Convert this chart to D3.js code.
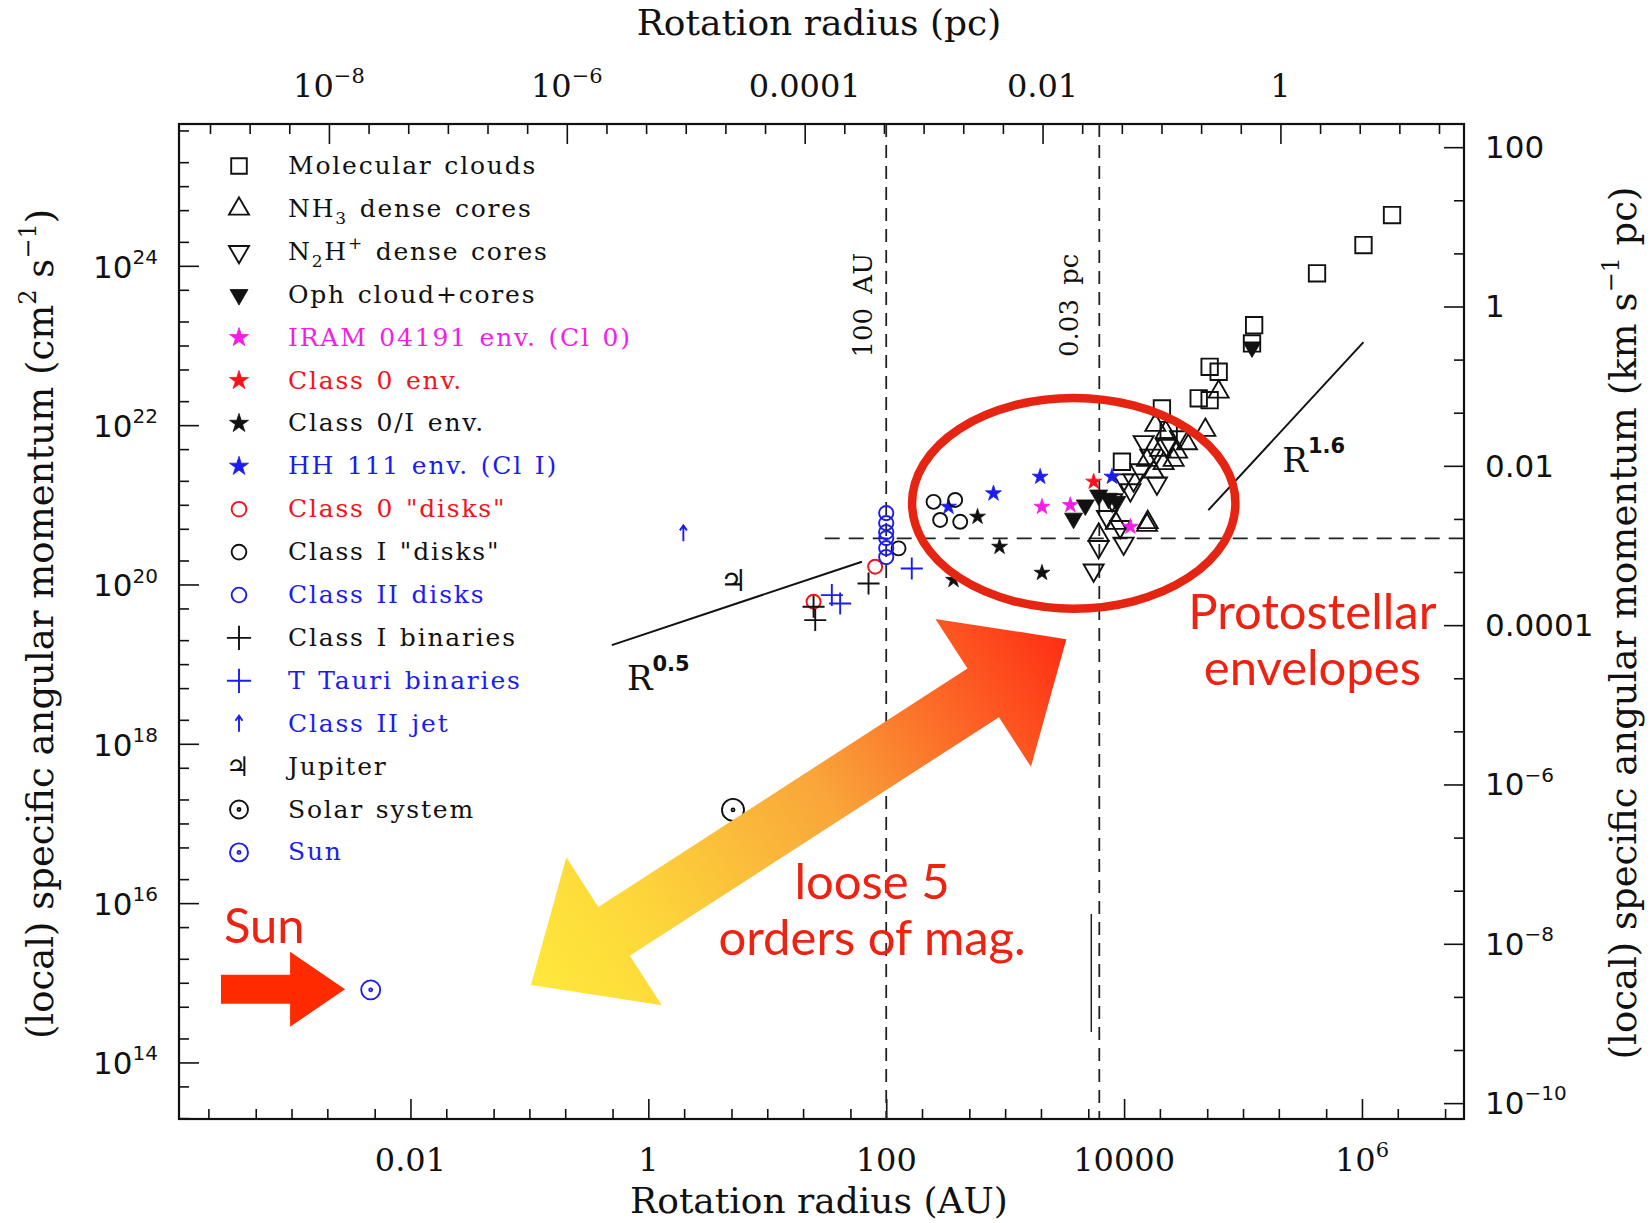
<!DOCTYPE html>
<html>
<head>
<meta charset="utf-8">
<script src="https://d3js.org/d3.v7.min.js"></script>
<style>
body { margin: 0; background: #fff; }
svg { font-family: "DejaVu Serif", serif; background: #fff; }
.tick line { stroke: #111; stroke-width: 1.6; }
.legend text { font-size: 25px; letter-spacing: 1.8px; word-spacing: 2px; }
.red-note { font-family: Lato, "Open Sans", sans-serif; font-size: 49px; fill: #ee2211; }
</style>
</head>
<body>
<script>
// rotation radius R in AU, specific angular momentum j in cm^2 s^-1
var molecularClouds = [[1.79e6,4.33e24],[1.03e6,1.82e24],[4.19e5,8.04e23],[1.24e5,1.80e23],[1.19e5,1.06e23],
  [5.24e4,5.40e22],[6.24e4,4.68e22],[4.24e4,2.17e22],[5.24e4,2.06e22],[2.08e4,1.62e22],[2.37e4,8.67e21],[9.59e3,3.47e21]];
var nh3Cores = [[6.24e4,2.62e22],[4.82e4,8.67e21],[1.83e4,1.00e22],[3.38e4,5.90e21],[2.01e4,4.86e21],[2.79e4,4.62e21],
  [1.56e4,3.64e21],[2.15e4,3.31e21],[1.77e4,2.59e21],[2.61e4,3.64e21],[1.56e4,5.56e20],[6.11e3,4.17e20],
  [1.58e4,6.03e20],[8.51e3,5.89e20],[2.24e4,8.13e21]];
var n2hCores = [[1.46e4,6.17e21],[1.37e4,2.73e21],[1.89e4,1.86e21],[1.20e4,2.04e21],[9.91e3,2.04e21],[1.13e4,1.53e21],
  [7.18e3,7.08e20],[9.27e3,5.30e20],[9.91e3,3.28e20],[6.11e3,2.97e20],[5.55e3,1.51e20],[1.66e4,4.17e21],
  [2.26e4,5.56e21],[2.95e4,7.08e21],[7.94e3,1.15e21]];
var ophCores = [[3.76e3,6.76e20],[4.72e3,9.91e20],[6.11e3,1.32e21],[7.41e3,1.20e21],[8.71e3,1.10e21],[1.19e5,9.55e22]];
var iram04191 = [[2.04e3,9.44e20],[3.53e3,9.91e20],[1.13e4,5.30e20]];
var class0Env = [[5.55e3,1.95e21]];
var class0IEnv = [[586,7.08e20],[897,2.97e20],[2.04e3,1.40e20],[368,1.14e20]];
var hh111Env = [[1.97e3,2.25e21],[798,1.39e21],[334,9.44e20],[7.91e3,2.25e21]];
var class0Disks = [[80.7,1.67e20],[24.5,6.07e19]];
var classIDisks = [[250,1.09e21],[380,1.15e21],[284,6.46e20],[419,6.12e20],[127,2.84e20]];
var classIIDisks = [[100,7.87e20],[100,5.89e20],[100,4.54e20],[100,3.82e20],[100,2.86e20],[100,2.21e20]];
var classIBinaries = [[71,1.03e20],[24.5,5.25e19],[25.3,3.57e19]];
var tTauriBinaries = [[164,1.59e20],[34.9,7.36e19],[41.0,5.78e19]];
var classIIJet = [[1.97,4.38e20]];
var jupiter = [[5.2,1.14e20]];
var solarSystem = [[5.15,1.48e17]];
var sun = [[4.63e-3,8.15e14]];

var legendLabels = ["Molecular clouds", "NH_{3} dense cores", "N_{2}H^{+} dense cores", "Oph cloud+cores",
  "IRAM 04191 env. (Cl 0)", "Class 0 env.", "Class 0/I env.", "HH 111 env. (Cl I)", "Class 0 \"disks\"",
  "Class I \"disks\"", "Class II disks", "Class I binaries", "T Tauri binaries", "Class II jet", "Jupiter",
  "Solar system", "Sun"];
var legendSymbols = ["square", "triUp", "triDown", "triDownFilled", "star", "star", "star", "star", "circle",
  "circle", "circle", "cross", "cross", "arrow", "jupiter", "sun", "sun"];
var legendColors = ["#111", "#111", "#111", "#111", "#f21ee8", "#f5121a", "#111", "#1c1cf0", "#f5121a",
  "#111", "#1c1cf0", "#111", "#1c1cf0", "#1c1cf0", "#111", "#111", "#1c1cf0"];
var seriesData = [molecularClouds, nh3Cores, n2hCores, ophCores, iram04191, class0Env, class0IEnv, hh111Env,
  class0Disks, classIDisks, classIIDisks, classIBinaries, tTauriBinaries, classIIJet, jupiter, solarSystem, sun];

// power-law guides: R^0.5 and R^1.6
var fitHalf = [[0.493,1.73e19],[62.5,1.93e20]];
var fitSteep = [[5.11e4,8.59e20],[1.03e6,1.10e23]];
var dashedR = [100, 6188];          // 100 AU and 0.03 pc
var dashedJ = 3.78e20;
var dashedJStart = 30.4;

// tick labels
var bottomLabelValues = [0.01, 1, 100, 1e4, 1e6];
var bottomLabelText = ["0.01", "1", "100", "10000", "10^{6}"];
var topLabelValues = [1e-8, 1e-6, 1e-4, 0.01, 1];
var topLabelText = ["10^{−8}", "10^{−6}", "0.0001", "0.01", "1"];
var leftLabelValues = [1e14, 1e16, 1e18, 1e20, 1e22, 1e24];
var leftLabelText = ["10^{14}", "10^{16}", "10^{18}", "10^{20}", "10^{22}", "10^{24}"];
var rightLabelValues = [100, 1, 0.01, 1e-4, 1e-6, 1e-8, 1e-10];
var rightLabelText = ["100", "1", "0.01", "0.0001", "10^{−6}", "10^{−8}", "10^{−10}"];

var AU_PER_PC = 206265, J_PER_KMPC = 3.086e23;

var W = 1651, H = 1223;
var frame = {left: 179, top: 124, right: 1464, bottom: 1119};

var svg = d3.select("body").append("svg").attr("width", W).attr("height", H);

var x = d3.scaleLog().domain([1.132e-4, 7.21e6]).range([frame.left, frame.right]);
var y = d3.scaleLog().domain([1.95e13, 6.03e25]).range([frame.bottom, frame.top]);
var xPc = d3.scaleLog().domain(x.domain().map(function(v) { return v / AU_PER_PC; })).range(x.range());
var yKm = d3.scaleLog().domain(y.domain().map(function(v) { return v / J_PER_KMPC; })).range(y.range());

// text with ^{..} superscripts and _{..} subscripts
function rich(t, str, size) {
  var cur = 0;
  str.split(/([_^]\{[^}]*\})/).forEach(function(p) {
    if (!p) return;
    var m = p.match(/^([_^])\{([^}]*)\}$/);
    var target = 0, txt = p, fs = null;
    if (m) {
      target = m[1] === "^" ? -0.45 * size : 0.3 * size;
      txt = m[2];
      fs = Math.round(size * 0.66) + "px";
    }
    var ts = t.append("tspan").attr("dy", target - cur).text(txt);
    if (fs) ts.style("font-size", fs);
    cur = target;
  });
  return t;
}

// ---- ticks
function tickList(lo, hi, mults) {
  var out = [];
  for (var e = Math.floor(Math.log10(lo)) - 1; e <= Math.ceil(Math.log10(hi)) + 1; e++) {
    mults.forEach(function(m) {
      var v = m * Math.pow(10, e);
      if (v >= lo && v <= hi) out.push({v: v, major: m === 1 && e % 2 === 0});
    });
  }
  return out;
}
function evenSteps(lo, hi, step) {
  var out = [];
  var a = Math.ceil(Math.log10(lo) / step - 1e-9), b = Math.floor(Math.log10(hi) / step + 1e-9);
  for (var k = a; k <= b; k++) {
    var e = k * step;
    var isInt = Math.abs(e - Math.round(e)) < 1e-6;
    out.push({v: Math.pow(10, e), major: isInt && Math.round(e) % 2 === 0});
  }
  return out;
}

function drawTicks(axisGen, transform, list) {
  [false, true].forEach(function(maj) {
    var vals = list.filter(function(d) { return d.major === maj; }).map(function(d) { return d.v; });
    svg.append("g").attr("transform", transform)
      .call(axisGen.tickValues(vals).tickSize(maj ? -20 : -10).tickFormat(""))
      .call(function(g) { g.select(".domain").remove(); });
  });
}
drawTicks(d3.axisBottom(x), "translate(0," + frame.bottom + ")", tickList(x.domain()[0], x.domain()[1], [1, 2, 5]));
drawTicks(d3.axisLeft(y), "translate(" + frame.left + ",0)", tickList(y.domain()[0], y.domain()[1], [1, 2, 5]));
drawTicks(d3.axisTop(xPc), "translate(0," + frame.top + ")", evenSteps(xPc.domain()[0], xPc.domain()[1], 1 / 3));
drawTicks(d3.axisRight(yKm), "translate(" + frame.right + ",0)", evenSteps(yKm.domain()[0], yKm.domain()[1], 2 / 3));

svg.append("rect")
  .attr("x", frame.left).attr("y", frame.top)
  .attr("width", frame.right - frame.left).attr("height", frame.bottom - frame.top)
  .attr("fill", "none").attr("stroke", "#111").attr("stroke-width", 2.2);

// ---- tick labels
bottomLabelValues.forEach(function(v, i) {
  rich(svg.append("text").attr("x", x(v)).attr("y", 1171).attr("text-anchor", "middle")
    .style("font-size", "32px").attr("fill", "#111"), bottomLabelText[i], 32);
});
topLabelValues.forEach(function(v, i) {
  rich(svg.append("text").attr("x", xPc(v)).attr("y", 97).attr("text-anchor", "middle")
    .style("font-size", "32px").attr("fill", "#111"), topLabelText[i], 32);
});
leftLabelValues.forEach(function(v, i) {
  rich(svg.append("text").attr("x", 158).attr("y", y(v) + 12).attr("text-anchor", "end")
    .style("font-family", "'DejaVu Sans', sans-serif").style("font-size", "31px").attr("fill", "#111"), leftLabelText[i], 31);
});
rightLabelValues.forEach(function(v, i) {
  rich(svg.append("text").attr("x", 1485).attr("y", yKm(v) + 11)
    .style("font-family", "'DejaVu Sans', sans-serif").style("font-size", "31px").attr("fill", "#111"), rightLabelText[i], 31);
});

// ---- axis titles
svg.append("text").attr("x", 819).attr("y", 35).attr("text-anchor", "middle")
  .style("font-size", "36px").attr("fill", "#111").text("Rotation radius (pc)");
svg.append("text").attr("x", 819).attr("y", 1213).attr("text-anchor", "middle")
  .style("font-size", "36px").attr("fill", "#111").text("Rotation radius (AU)");
rich(svg.append("text").attr("transform", "translate(53,624) rotate(-90)").attr("text-anchor", "middle")
  .style("font-size", "37px").attr("fill", "#111"), "(local) specific angular momentum (cm^{2} s^{−1})", 37);
rich(svg.append("text").attr("transform", "translate(1636,623) rotate(-90)").attr("text-anchor", "middle")
  .style("font-size", "37px").attr("fill", "#111"), "(local) specific angular momentum (km s^{−1} pc)", 37);

// ---- reference lines
var plot = svg.append("g");
dashedR.forEach(function(r) {
  plot.append("line").attr("x1", x(r)).attr("x2", x(r)).attr("y1", frame.top).attr("y2", frame.bottom)
    .attr("stroke", "#222").attr("stroke-width", 1.8).attr("stroke-dasharray", "13,8");
});
plot.append("line").attr("x1", x(dashedJStart)).attr("x2", frame.right).attr("y1", y(dashedJ)).attr("y2", y(dashedJ))
  .attr("stroke", "#222").attr("stroke-width", 1.8).attr("stroke-dasharray", "15,9");

plot.append("text").attr("transform", "translate(" + x(76) + "," + y(3.2e23) + ") rotate(-90)")
  .attr("text-anchor", "middle").style("font-size", "26px").style("word-spacing", "6px").attr("fill", "#111").text("100 AU");
plot.append("text").attr("transform", "translate(" + x(4.1e3) + "," + y(3.2e23) + ") rotate(-90)")
  .attr("text-anchor", "middle").style("font-size", "26px").style("word-spacing", "6px").attr("fill", "#111").text("0.03 pc");

var line = d3.line().x(function(d) { return x(d[0]); }).y(function(d) { return y(d[1]); });
[fitHalf, fitSteep].forEach(function(f) {
  plot.append("path").attr("d", line(f)).attr("fill", "none").attr("stroke", "#111").attr("stroke-width", 2);
});
function powerLabel(r, j, exp) {
  var t = plot.append("text").attr("x", x(r)).attr("y", y(j)).attr("fill", "#111").style("font-size", "34px");
  t.append("tspan").text("R");
  t.append("tspan").attr("dy", -19).style("font-family", "'DejaVu Sans', sans-serif").style("font-weight", "bold")
    .style("font-size", "21px").text(exp);
}
powerLabel(0.66, 4.7e18, "0.5");
powerLabel(2.14e5, 2.57e21, "1.6");

// ---- symbols
function symbolPath(type, k) {
  var h, a, r;
  switch (type) {
    case "square": h = 8.2 * k; return "M" + -h + "," + -h + "h" + 2 * h + "v" + 2 * h + "h" + -2 * h + "Z";
    case "triUp": a = 20 * k; r = a / Math.sqrt(3); return "M0," + -r + "L" + a / 2 + "," + r / 2 + "L" + -a / 2 + "," + r / 2 + "Z";
    case "triDown": case "triDownFilled": a = (type === "triDown" ? 20 : 18) * k; r = a / Math.sqrt(3);
      return "M0," + r + "L" + a / 2 + "," + -r / 2 + "L" + -a / 2 + "," + -r / 2 + "Z";
    case "star": return d3.symbol(d3.symbolStar, 78 * k * k)();
    case "circle": r = 7 * k; return "M" + r + ",0A" + r + "," + r + " 0 1 1 " + -r + ",0A" + r + "," + r + " 0 1 1 " + r + ",0";
    case "cross": h = 11 * k; return "M" + -h + ",0H" + h + "M0," + -h + "V" + h;
    case "arrow": return "M0," + 8 * k + "V" + -8 * k + "M" + -3.5 * k + "," + -3 * k + "L0," + -8 * k + "L" + 3.5 * k + "," + -3 * k;
    case "sun": r = 10 * k;
      return "M" + r + ",0A" + r + "," + r + " 0 1 1 " + -r + ",0A" + r + "," + r + " 0 1 1 " + r + ",0" +
        "M1.5,0A1.5,1.5 0 1 1 -1.5,0A1.5,1.5 0 1 1 1.5,0";
  }
}
function drawSymbol(g, type, color, k) {
  if (type === "jupiter") {
    g.append("text").attr("text-anchor", "middle").attr("dy", "0.36em")
      .style("font-family", "'DejaVu Sans', sans-serif").style("font-size", 30 * k + "px").style("font-weight", "bold")
      .attr("fill", color).text("\u2643");
    return;
  }
  var filled = type === "star" || type === "triDownFilled";
  g.append("path").attr("d", symbolPath(type, k))
    .attr("fill", filled ? color : "none")
    .attr("stroke", color).attr("stroke-width", filled ? 0.8 : 1.9);
}

var sizeInPlot = [1, 1, 1, 1, 1, 1, 1, 1, 1, 1, 1.02, 1, 1, 1, 1, 1.1, 0.95];
seriesData.forEach(function(data, i) {
  data.forEach(function(d) {
    var g = plot.append("g").attr("transform", "translate(" + x(d[0]) + "," + y(d[1]) + ")");
    drawSymbol(g, legendSymbols[i], legendColors[i], sizeInPlot[i]);
  });
});

// ---- legend
var sizeInLegend = [0.95, 1, 1, 1, 1.2, 1.2, 1.2, 1.2, 1.05, 1.05, 1.05, 1.1, 1.1, 1, 0.9, 0.9, 0.9];
var legend = svg.append("g").attr("class", "legend");
legendLabels.forEach(function(lab, i) {
  var yy = 174 + i * 42.9;
  var g = legend.append("g").attr("transform", "translate(239," + (yy - 8) + ")");
  drawSymbol(g, legendSymbols[i], legendColors[i], sizeInLegend[i]);
  rich(legend.append("text").attr("x", 288).attr("y", yy).attr("fill", legendColors[i]), lab, 25);
});

// ---- slide annotations
var notes = svg.append("g");
var cx = (x(165) + x(8.63e4)) / 2, cy = (y(2.19e22) + y(4.97e19)) / 2;
notes.append("ellipse").attr("cx", cx).attr("cy", cy)
  .attr("rx", (x(8.63e4) - x(165)) / 2).attr("ry", (y(4.97e19) - y(2.19e22)) / 2)
  .attr("fill", "none").attr("stroke", "#e62412").attr("stroke-width", 8.5);

function twoLines(px, py, py2, a, b) {
  var t = notes.append("text").attr("class", "red-note").attr("text-anchor", "middle");
  t.append("tspan").attr("x", px).attr("y", py).text(a);
  t.append("tspan").attr("x", px).attr("y", py2).text(b);
}
twoLines(x(3.83e5), y(2.79e19), y(5.53e18), "Protostellar", "envelopes");
twoLines(x(76), y(1.12e16), y(2.23e15), "loose 5", "orders of mag.");
notes.append("text").attr("class", "red-note").attr("x", x(2.7e-4)).attr("y", y(3.2e15)).text("Sun");

// double-headed gradient arrow between the envelope and the Sun
var grad = svg.append("defs").append("linearGradient").attr("id", "arrowGrad");
grad.append("stop").attr("offset", "0").attr("stop-color", "#ffe83c");
grad.append("stop").attr("offset", "0.2").attr("stop-color", "#fdd83a");
grad.append("stop").attr("offset", "0.55").attr("stop-color", "#f9a53a");
grad.append("stop").attr("offset", "1").attr("stop-color", "#ff2e14");
var ax = x(0.103), ay = y(9.38e14), bx = x(3.27e3), by = y(2.06e19);
var L = Math.hypot(bx - ax, by - ay), ang = Math.atan2(by - ay, bx - ax) * 180 / Math.PI;
var hl = 99, hw = 88, sw = 29;
notes.append("polygon")
  .attr("transform", "translate(" + ax + "," + ay + ") rotate(" + ang + ")")
  .attr("points", [[0, 0], [hl, -hw], [hl, -sw], [L - hl, -sw], [L - hl, -hw], [L, 0], [L - hl, hw], [L - hl, sw], [hl, sw], [hl, hw]].join(" "))
  .attr("fill", "url(#arrowGrad)");

// red arrow pointing at the Sun
var tx = x(2.82e-3), ty = y(8.3e14), sx = x(2.55e-4);
notes.append("polygon")
  .attr("points", [[sx, ty - 14.5], [tx - 55, ty - 14.5], [tx - 55, ty - 37.5], [tx, ty], [tx - 55, ty + 37.5], [tx - 55, ty + 14.5], [sx, ty + 14.5]].join(" "))
  .attr("fill", "#ff2a00");

notes.append("line").attr("x1", x(5.3e3)).attr("x2", x(5.3e3)).attr("y1", y(7.3e15)).attr("y2", y(2.41e14))
  .attr("stroke", "#222").attr("stroke-width", 1.5);
</script>
</body>
</html>
